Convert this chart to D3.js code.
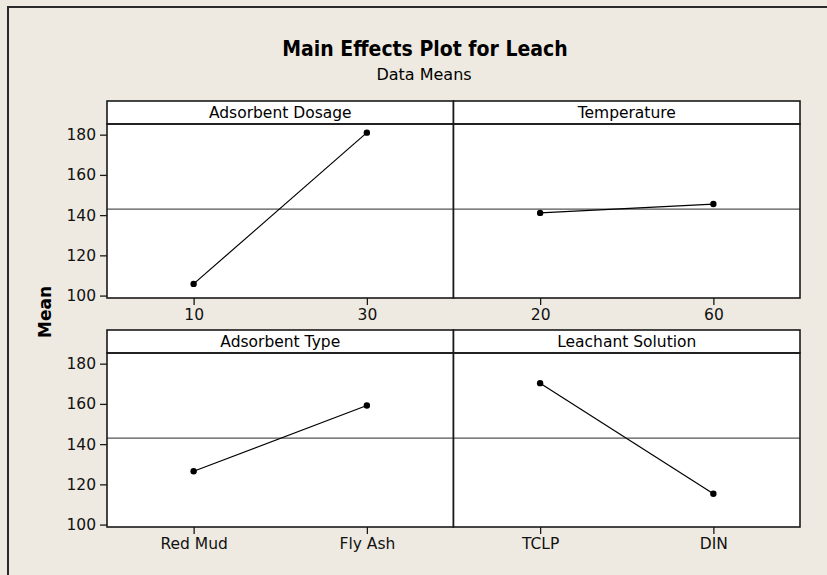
<!DOCTYPE html>
<html>
<head>
<meta charset="utf-8">
<script src="https://cdn.jsdelivr.net/npm/d3@7"></script>
<style>
  body { margin: 0; background: #eeeae1; }
  svg { display: block; font-family: "DejaVu Sans", sans-serif; }
</style>
</head>
<body>
<div id="container"></div>
<script>
// data
const factors = ["Adsorbent Dosage", "Temperature", "Adsorbent Type", "Leachant Solution"];
const levels = [["10", "30"], ["20", "60"], ["Red Mud", "Fly Ash"], ["TCLP", "DIN"]];
const means = [[105.8, 181.0], [141.1, 145.5], [126.5, 159.2], [170.3, 115.3]];
const grandMean = 143;
const yTicks = [100, 120, 140, 160, 180];

const width = 827, height = 575;

const svg = d3.select('#container')
    .append('svg')
    .attr('width', width)
    .attr('height', height)

// background + frame (only top/left edge visible)
svg.append('rect')
    .attr('width', width).attr('height', height)
    .attr('fill', '#eeeae1')
svg.append('path')
    .attr('d', `M8,${height + 5}V7H${width + 5}`)
    .attr('fill', 'none')
    .attr('stroke', '#2a2a2a')
    .attr('stroke-width', 2)

// titles
svg.append('text')
    .attr('x', 425).attr('y', 56)
    .attr('text-anchor', 'middle')
    .attr('font-size', 21)
    .attr('font-weight', 'bold')
    .attr('font-family', '"DejaVu Sans Condensed", "DejaVu Sans", sans-serif')
    .text('Main Effects Plot for Leach')
svg.append('text')
    .attr('x', 424).attr('y', 80)
    .attr('text-anchor', 'middle')
    .attr('font-size', 16)
    .text('Data Means')

svg.append('text')
    .attr('transform', 'translate(51,312) rotate(-90)')
    .attr('text-anchor', 'middle')
    .attr('font-size', 17)
    .attr('font-weight', 'bold')
    .text('Mean')

// panel layout
const colX = [107, 453.5, 800];
const rowTop = [101, 330];
const stripH = 23, plotH = 174;

const y = [0, 1].map(r => d3.scaleLinear()
    .domain([98.8, 185.3])
    .range([rowTop[r] + stripH + plotH, rowTop[r] + stripH]))

factors.forEach((name, i) => {
    const r = Math.floor(i / 2), c = i % 2;
    const x0 = colX[c], x1 = colX[c + 1];
    const top = rowTop[r], plotTop = top + stripH, plotBottom = plotTop + plotH;
    const g = svg.append('g')

    const x = d3.scalePoint()
        .domain(levels[i])
        .range([x0, x1])
        .padding(0.5)

    // plot area
    g.append('rect')
        .attr('x', x0).attr('y', plotTop)
        .attr('width', x1 - x0).attr('height', plotH)
        .attr('fill', '#fff')

    // grand mean line
    g.append('line')
        .attr('x1', x0).attr('x2', x1)
        .attr('y1', y[r](grandMean)).attr('y2', y[r](grandMean))
        .attr('stroke', '#555')
        .attr('stroke-width', 1.2)

    // strip
    g.append('rect')
        .attr('x', x0).attr('y', top)
        .attr('width', x1 - x0).attr('height', stripH)
        .attr('fill', '#fff')
        .attr('stroke', '#1a1a1a')
        .attr('stroke-width', 1.6)
    g.append('text')
        .attr('x', (x0 + x1) / 2).attr('y', top + 16.5)
        .attr('text-anchor', 'middle')
        .attr('font-size', 15.5)
        .text(name)

    // plot border
    g.append('rect')
        .attr('x', x0).attr('y', plotTop)
        .attr('width', x1 - x0).attr('height', plotH)
        .attr('fill', 'none')
        .attr('stroke', '#1a1a1a')
        .attr('stroke-width', 1.6)

    // effect line + points
    const pts = levels[i].map((l, k) => [x(l), y[r](means[i][k])])
    g.append('path')
        .attr('d', d3.line()(pts))
        .attr('fill', 'none')
        .attr('stroke', '#000')
        .attr('stroke-width', 1.2)
    g.selectAll('circle')
        .data(pts)
        .enter()
        .append('circle')
        .attr('cx', d => d[0]).attr('cy', d => d[1])
        .attr('r', 3.2)
        .attr('fill', '#000')

    // x axis
    const xa = g.append('g')
        .attr('transform', `translate(0,${plotBottom})`)
        .call(d3.axisBottom(x).tickSize(7).tickPadding(4))
    xa.select('.domain').remove()

    // y axis only on the left column
    if (c === 0) {
        const ya = g.append('g')
            .attr('transform', `translate(${x0},0)`)
            .call(d3.axisLeft(y[r]).tickValues(yTicks).tickSize(7).tickPadding(4))
        ya.select('.domain').remove()
    }
})

svg.selectAll('.tick line').attr('stroke', '#1a1a1a').attr('stroke-width', 1.3)
svg.selectAll('.tick text')
    .attr('font-size', 15.5)
    .attr('font-family', '"DejaVu Sans", sans-serif')
    .attr('fill', '#111')
</script>
</body>
</html>
